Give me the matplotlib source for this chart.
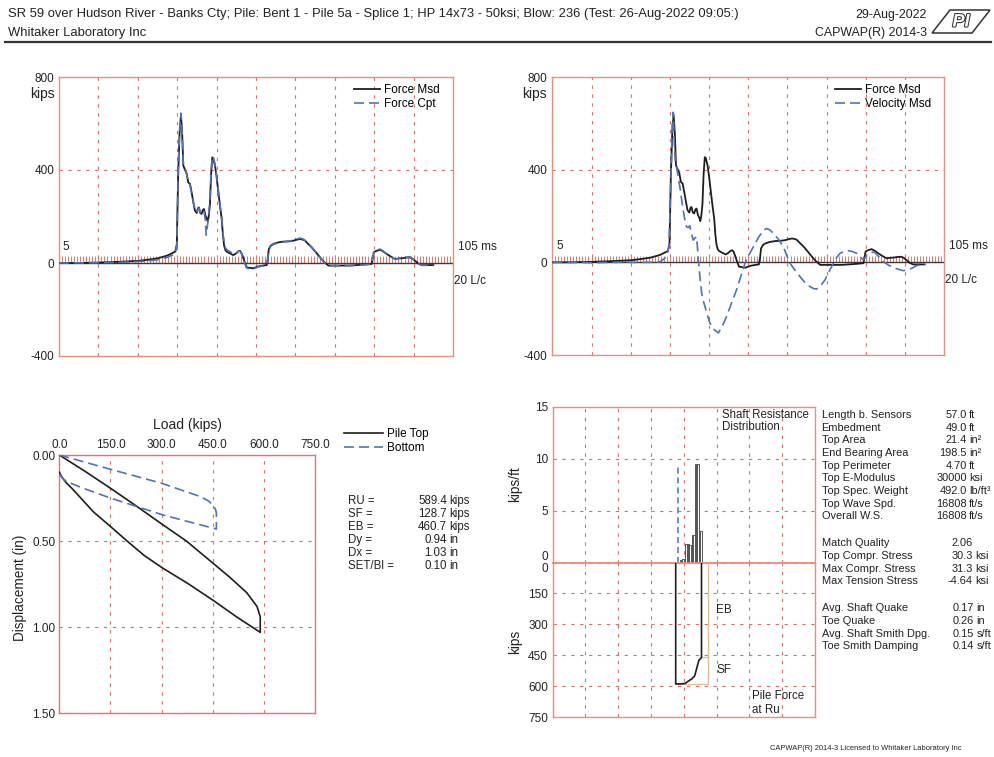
import numpy as np
import matplotlib
matplotlib.use("Agg")
import matplotlib.pyplot as plt
from matplotlib.patches import Polygon
from matplotlib.lines import Line2D
import matplotlib.patheffects as pe
import matplotlib.transforms as mtransforms

plt.rcParams['font.family'] = ['Liberation Sans', 'DejaVu Sans']
plt.rcParams['axes.unicode_minus'] = False

# ---------------------------------------------------------------- data
header_line1 = ("SR 59 over Hudson River - Banks Cty; Pile: Bent 1 - Pile 5a - Splice 1; "
                "HP 14x73 - 50ksi; Blow: 236 (Test: 26-Aug-2022 09:05:)")
header_line2 = "Whitaker Laboratory Inc"
report_date = "29-Aug-2022"
program_name = "CAPWAP(R) 2014-3"
footer_text = "CAPWAP(R) 2014-3 Licensed to Whitaker Laboratory Inc"

# time in L/c, force in kips
force_msd_t = [0, 1.0, 2.0, 3.0, 4.0, 4.5, 5.0, 5.5, 5.9, 5.98, 6.05, 6.12, 6.19, 6.25,
               6.31, 6.40, 6.48, 6.56, 6.65, 6.74, 6.82, 6.90, 6.99, 7.05, 7.10, 7.17,
               7.24, 7.30, 7.36, 7.43, 7.50, 7.55, 7.60, 7.66, 7.72, 7.78, 7.83, 7.92,
               8.00, 8.09, 8.18, 8.26, 8.32, 8.38, 8.45, 8.51, 8.70, 8.85, 9.00, 9.10,
               9.19, 9.25, 9.32, 9.42, 9.53, 9.70, 9.86, 10.10, 10.37, 10.54, 10.60,
               10.65, 10.75, 10.88, 11.10, 11.39, 11.65, 11.90, 12.10, 12.23, 12.40,
               12.49, 12.65, 12.83, 13.05, 13.25, 13.45, 13.67, 14.20, 14.77, 15.30,
               15.87, 15.93, 15.98, 16.10, 16.29, 16.45, 16.63, 16.85, 17.06, 17.25,
               17.39, 17.60, 17.82, 17.95, 18.07, 18.25, 18.41, 19.0]
force_msd = [0, 0, 2, 5, 9, 14, 20, 32, 49, 80, 380, 560, 637, 560,
             419, 400, 385, 347, 340, 300, 261, 225, 215, 235, 239, 215,
             211, 228, 232, 205, 192, 178, 200, 250, 380, 454, 450, 419,
             370, 304, 240, 189, 120, 75, 55, 49, 40, 34, 42, 50,
             52, 45, 30, 5, -19, -21, -23, -15, -11, -9, 20,
             60, 75, 82, 88, 92, 93, 96, 101, 103, 100,
             96, 82, 67, 45, 24, 5, -11, -11, -11, -8,
             -4, 20, 46, 52, 57, 50, 39, 27, 17, 20,
             20, 23, 24, 18, 10, -3, -9, -9]

force_cpt_t = [0, 2.0, 3.0, 4.0, 4.5, 5.0, 5.5, 5.9, 5.98, 6.05, 6.12, 6.19, 6.25, 6.31,
               6.40, 6.48, 6.56, 6.65, 6.74, 6.82, 6.90, 6.99, 7.05, 7.10, 7.17, 7.24,
               7.30, 7.36, 7.43, 7.47, 7.52, 7.58, 7.64, 7.72, 7.78, 7.83, 7.92, 8.00,
               8.09, 8.18, 8.26, 8.32, 8.38, 8.45, 8.51, 8.70, 8.85, 9.00, 9.10, 9.19,
               9.25, 9.32, 9.42, 9.53, 9.70, 9.86, 10.10, 10.37, 10.54, 10.60, 10.65,
               10.75, 10.88, 11.10, 11.39, 11.65, 11.90, 12.10, 12.23, 12.40, 12.49,
               12.65, 12.83, 13.05, 13.25, 13.45, 13.67, 14.20, 14.77, 15.30, 15.87,
               15.93, 15.98, 16.10, 16.29, 16.45, 16.63, 16.85, 17.06, 17.25, 17.39,
               17.60, 17.82, 17.95, 18.07, 18.25, 18.41, 19.0]
force_cpt = [0, 1, 3, 6, 9, 14, 24, 40, 75, 390, 570, 645, 560, 425,
             405, 380, 350, 335, 295, 262, 228, 218, 232, 236, 218, 214,
             225, 225, 180, 120, 150, 190, 250, 385, 460, 455, 425, 375,
             310, 245, 195, 130, 90, 65, 58, 48, 38, 44, 50, 50,
             43, 28, 0, -22, -26, -26, -17, -12, -9, 15, 55,
             72, 80, 86, 90, 94, 98, 104, 107, 103, 97,
             84, 68, 46, 25, 4, -12, -12, -11, -9, -5,
             22, 48, 55, 60, 52, 40, 27, 16, 19, 21,
             25, 26, 19, 10, -4, -10, -10]

velocity_msd_t = [0, 1, 2, 3, 4, 5, 5.5, 5.83, 5.95, 6.05, 6.12, 6.17, 6.22, 6.28, 6.34,
                  6.42, 6.51, 6.60, 6.68, 6.76, 6.85, 6.93, 7.02, 7.10, 7.19, 7.28, 7.36,
                  7.41, 7.45, 7.53, 7.62, 7.70, 7.79, 7.90, 8.04, 8.25, 8.47, 8.68, 8.89,
                  9.15, 9.40, 9.62, 9.83, 10.05, 10.26, 10.50, 10.77, 10.94, 11.10, 11.28,
                  11.55, 11.79, 11.95, 12.13, 12.40, 12.64, 12.90, 13.15, 13.35, 13.49,
                  13.70, 13.91, 14.12, 14.34, 14.50, 14.68, 14.90, 15.10, 15.30, 15.53,
                  15.70, 15.87, 16.05, 16.21, 16.35, 16.46, 16.65, 16.89, 17.15, 17.40,
                  17.65, 17.91, 18.10, 18.33, 18.55, 18.76, 19.0]
velocity_msd = [0, 0, -2, 0, 0, 0, 2, 24, 67, 350, 600, 648, 520, 430, 411,
                370, 325, 270, 225, 185, 153, 150, 158, 125, 96, 105, 110,
                60, 10, -60, -133, -165, -191, -225, -262, -290, -305, -275, -234,
                -175, -119, -60, -4, 35, 67, 105, 139, 146, 140, 125,
                98, 67, 32, -4, -36, -62, -88, -105, -114, -115,
                -100, -76, -40, -4, 20, 39, 48, 50, 47, 39,
                25, 10, 30, 39, 44, 42, 25, 3, -12, -22,
                -30, -36, -33, -26, -16, -10, -7]

# simulated static load test (kips, inches)
top_load = [0, 75, 150, 225, 300, 373, 450, 500, 550, 580, 589.4, 589.4,
            520, 452, 380, 302, 250, 202, 150, 100, 70, 40, 20, 8, 0]
top_disp = [0, 0.094, 0.193, 0.295, 0.40, 0.50, 0.627, 0.71, 0.80, 0.88, 0.94, 1.03,
            0.94, 0.845, 0.75, 0.655, 0.585, 0.505, 0.415, 0.33, 0.265, 0.20, 0.16, 0.13, 0.10]
bottom_load = [0, 150, 300, 413, 437, 452, 458, 460.7, 460.7,
               302, 150, 70, 21, 7, 0]
bottom_disp = [0, 0.083, 0.164, 0.241, 0.266, 0.295, 0.315, 0.335, 0.43,
               0.347, 0.25, 0.193, 0.154, 0.13, 0.11]

result_names = ["RU =", "SF =", "EB =", "Dy =", "Dx =", "SET/Bl ="]
result_values = ["589.4", "128.7", "460.7", "0.94", "1.03", "0.10"]
result_units = ["kips", "kips", "kips", "in", "in", "in"]
RU, SF, EB = 589.4, 128.7, 460.7

# shaft resistance distribution along the pile (ft below sensors, kips/ft)
pile_length = 57.0
segment_top = [9, 12, 15, 18, 21, 24, 27, 30, 33, 36, 39, 42, 45, 48, 51, 54]
segment_len = 3.0
unit_shaft = [0.2, 0.2, 0.3, 0.3, 1.8, 1.8, 1.8, 1.7, 1.7, 2.7, 2.7, 9.5, 9.5, 9.5, 3.0, 3.0]
dashed_marker_depth = 4.5
dashed_marker_value = 9.5

props_block1 = [("Length b. Sensors", "57.0", "ft"), ("Embedment", "49.0", "ft"),
                ("Top Area", "21.4", "in\u00b2"), ("End Bearing Area", "198.5", "in\u00b2"),
                ("Top Perimeter", "4.70", "ft"), ("Top E-Modulus", "30000", "ksi"),
                ("Top Spec. Weight", "492.0", "lb/ft\u00b3"), ("Top Wave Spd.", "16808", "ft/s"),
                ("Overall W.S.", "16808", "ft/s")]
props_block2 = [("Match Quality", "2.06", ""), ("Top Compr. Stress", "30.3", "ksi"),
                ("Max Compr. Stress", "31.3", "ksi"), ("Max Tension Stress", "-4.64", "ksi")]
props_block3 = [("Avg. Shaft Quake", "0.17", "in"), ("Toe Quake", "0.26", "in"),
                ("Avg. Shaft Smith Dpg.", "0.15", "s/ft"), ("Toe Smith Damping", "0.14", "s/ft")]

# ---------------------------------------------------------------- style
FRAME = '#e8907a'
GRID = '#e06a6a'
BLACK = '#1e1e1e'
BLUE = '#4f72b8'
TAN = '#e9b994'
COMB = '#e07a6a'
TXT = '#222'
GRID_LS = (0, (3, 5))

W, H = 995, 757
fig = plt.figure(figsize=(W / 100, H / 100), dpi=100)


def box(x0, y0, x1, y1):
    return [x0 / W, 1 - y1 / H, (x1 - x0) / W, (y1 - y0) / H]


def fx(x):
    return x / W


def fy(y):
    return 1 - y / H


def style_frame(ax, color=FRAME, lw=1.0):
    for s in ax.spines.values():
        s.set_color(color)
        s.set_linewidth(lw)


# ---------------------------------------------------------------- header
fig.text(fx(8), fy(14), header_line1, fontsize=9.4, va='center', ha='left', color=TXT)
fig.text(fx(8), fy(33), header_line2, fontsize=9.4, va='center', ha='left', color=TXT)
fig.text(fx(927), fy(15), report_date, fontsize=8.9, va='center', ha='right', color=TXT)
fig.text(fx(927), fy(33), program_name, fontsize=8.9, va='center', ha='right', color=TXT)
fig.add_artist(Line2D([fx(5), fx(991)], [fy(42), fy(42)], color='#333', lw=1.6))
logo = Polygon([(fx(932), fy(33)), (fx(972), fy(33)), (fx(990), fy(10)), (fx(950), fy(10))],
               closed=True, fill=False, edgecolor='#333', lw=1.1, transform=fig.transFigure)
fig.add_artist(logo)
fig.text(fx(961), fy(22), "PI", fontsize=13, style='italic', fontweight='bold',
         ha='center', va='center', color='white',
         path_effects=[pe.withStroke(linewidth=1.5, foreground='#333')])
fig.text(fx(962), fy(749), footer_text, fontsize=5.4, ha='right', va='center', color=TXT)

# ---------------------------------------------------------------- wave plots
comb_x = np.linspace(0, 20, 131)


def wave_axes(rect, curves, kips_x):
    ax = fig.add_axes(rect)
    ax.set_xlim(0, 20)
    ax.set_ylim(-400, 800)
    style_frame(ax)
    ax.set_xticks(np.arange(0, 21, 2))
    ax.set_xticklabels([])
    ax.set_yticks([-400, 0, 400, 800])
    ax.set_yticklabels(['-400', '0', '400', '800'])
    ax.tick_params(length=0, labelsize=8.5, pad=3.5, colors=TXT)
    ax.grid(True, color=GRID, linestyle=GRID_LS, linewidth=0.8)
    ax.vlines(comb_x, 0, 28, color=COMB, lw=0.7, zorder=2)
    ax.axhline(0, color='#3a3a3a', lw=1.0, zorder=2.5)
    for t, v, lab, col, ls, lw in curves:
        ax.plot(t, v, color=col, linestyle=ls, lw=lw, label=lab, zorder=3)
    ax.legend(loc='upper right', bbox_to_anchor=(0.985, 1.0), frameon=False, fontsize=8.5,
              handlelength=2.2, handletextpad=0.35, labelspacing=0.15, borderaxespad=0.2)
    ax.text(0.2, 70, "5", fontsize=8.5, ha='left', va='center', color=TXT)
    tr = mtransforms.blended_transform_factory(ax.transAxes, ax.transData)
    ax.text(1.013, 70, "105 ms", transform=tr, fontsize=8.5, ha='left', va='center', color=TXT)
    ax.text(1.002, -77, "20 L/c", transform=tr, fontsize=8.5, ha='left', va='center', color=TXT)
    fig.text(fx(kips_x), fy(94), "kips", fontsize=10, ha='right', va='center', color=TXT)
    return ax


wave_axes(box(59, 77, 453, 356),
          [(force_msd_t, force_msd, "Force Msd", BLACK, '-', 1.3),
           (force_cpt_t, force_cpt, "Force Cpt", BLUE, (0, (6, 3)), 1.2)], 55)
wave_axes(box(552.3, 77, 944.3, 355),
          [(force_msd_t, force_msd, "Force Msd", BLACK, '-', 1.3),
           (velocity_msd_t, velocity_msd, "Velocity Msd", BLUE, (0, (6, 3)), 1.2)], 547)

# ---------------------------------------------------------------- load-set curve
axd = fig.add_axes(box(59.3, 455, 315, 713.3))
axd.set_xlim(0, 750)
axd.set_ylim(1.5, 0)
style_frame(axd, color='#e8707a')
axd.xaxis.tick_top()
axd.set_xticks([0, 150, 300, 450, 600, 750])
axd.set_xticklabels(['0.0', '150.0', '300.0', '450.0', '600.0', '750.0'])
axd.set_yticks([0, 0.5, 1.0, 1.5])
axd.set_yticklabels(['0.00', '0.50', '1.00', '1.50'])
axd.tick_params(length=0, labelsize=8.5, pad=3, colors=TXT)
axd.grid(True, color=GRID, linestyle=GRID_LS, linewidth=0.8)
l1, = axd.plot(top_load, top_disp, color=BLACK, lw=1.2, zorder=3)
l2, = axd.plot(bottom_load, bottom_disp, color=BLUE, lw=1.2, linestyle=(0, (6, 3)), zorder=3)
fig.text(fx(187), fy(425), "Load (kips)", fontsize=10, ha='center', va='center', color=TXT)
fig.text(fx(20), fy(588), "Displacement (in)", fontsize=9.8, ha='center', va='center',
         rotation=90, color=TXT)
fig.legend([l1, l2], ["Pile Top", "Bottom"], loc='upper left',
           bbox_to_anchor=(fx(338), fy(422)), frameon=False, fontsize=8.5, borderpad=0,
           handlelength=3.3, handletextpad=0.35, labelspacing=0.15)
for i, (n, v, u) in enumerate(zip(result_names, result_values, result_units)):
    yy = fy(500.7 + i * 13.1)
    fig.text(fx(348), yy, n, fontsize=8.3, ha='left', va='center', color=TXT)
    fig.text(fx(447), yy, v, fontsize=8.3, ha='right', va='center', color=TXT)
    fig.text(fx(449.5), yy, u, fontsize=8.3, ha='left', va='center', color=TXT)

# ---------------------------------------------------------------- shaft resistance
px_per_ft = 25.8 / pile_length
x_lo = -(675.7 - 552.7) / px_per_ft
x_hi = (815 - 675.7) / px_per_ft
x_grid = np.linspace(x_lo, x_hi, 9)

axu = fig.add_axes(box(552.7, 407, 815, 562.5))
axl = fig.add_axes(box(552.7, 562.5, 815, 717))
for a in (axu, axl):
    a.set_xlim(x_lo, x_hi)
    style_frame(a)
    a.set_xticks(x_grid)
    a.set_xticklabels([])
    a.tick_params(length=0, labelsize=8.5, pad=3.5, colors=TXT)
    a.grid(True, color=GRID, linestyle=GRID_LS, linewidth=0.8)
axu.spines['bottom'].set_linewidth(1.3)
axl.spines['top'].set_linewidth(1.3)

axu.set_ylim(0, 15)
axu.set_yticks([0, 5, 10, 15])
axu.set_yticklabels(['0', '5', '10', '15'])
axu.bar(segment_top, unit_shaft, width=segment_len, align='edge', facecolor='white',
        edgecolor='#555', lw=0.7, zorder=3)
axu.plot([dashed_marker_depth, dashed_marker_depth], [0, dashed_marker_value], color=BLUE,
         lw=1.1, linestyle=(0, (4, 2.5)), zorder=3)
axu.text(102, 14.85, "Shaft Resistance\nDistribution", fontsize=8.3, ha='left', va='top',
         linespacing=1.05, color=TXT)

axl.set_ylim(750, 0)
axl.set_yticks([0, 150, 300, 450, 600, 750])
axl.set_yticklabels(['0', '150', '300', '450', '600', '750'])
axu.get_yticklabels()[0].set_va('bottom')
axl.get_yticklabels()[0].set_va('top')

# pile force at ultimate resistance, shaft friction accumulated down the pile
seg_res = np.array(unit_shaft) * segment_len
cum = np.concatenate([[0.0], np.cumsum(seg_res)])
depth_pts = [segment_top[0]] + [t + segment_len for t in segment_top]
force_pts = RU - SF * cum / cum[-1]
poly_x = [0, 0] + list(depth_pts) + [pile_length, pile_length]
poly_y = [0, RU] + list(force_pts) + [EB, 0]
bracket_x = 72
axl.plot([bracket_x, bracket_x], [0, RU], color=TAN, lw=0.9, zorder=2.6)
axl.plot([0, bracket_x], [RU, RU], color=TAN, lw=0.9, zorder=2.6)
axl.plot([pile_length, bracket_x], [EB, EB], color=TAN, lw=0.9, zorder=2.6)
axl.plot(poly_x, poly_y, color=BLACK, lw=1.2, zorder=3)
axl.text(90, 231, "EB", fontsize=8.5, ha='left', va='center', color=TXT)
axl.text(90, 523, "SF", fontsize=8.5, ha='left', va='center', color=TXT)
axl.text(168, 618, "Pile Force\nat Ru", fontsize=8.3, ha='left', va='top',
         linespacing=1.25, color=TXT)

fig.text(fx(515), fy(484), "kips/ft", fontsize=9.8, rotation=90, ha='center', va='center',
         color=TXT)
fig.text(fx(515), fy(642), "kips", fontsize=9.8, rotation=90, ha='center', va='center',
         color=TXT)

# ---------------------------------------------------------------- pile properties


def prop_block(rows, y0, num_right):
    for i, (name, val, unit) in enumerate(rows):
        yy = fy(y0 + i * 12.67)
        fig.text(fx(821.5), yy, name, fontsize=7.9, ha='left', va='center', color=TXT)
        fig.text(fx(num_right), yy, val, fontsize=7.9, ha='right', va='center', color=TXT)
        if unit:
            fig.text(fx(num_right + 2.3), yy, unit, fontsize=7.9, ha='left', va='center',
                     color=TXT)


prop_block(props_block1, 415, 967)
prop_block(props_block2, 543.3, 973)
prop_block(props_block3, 608.3, 974)

fig.savefig("out.png", dpi=100)
